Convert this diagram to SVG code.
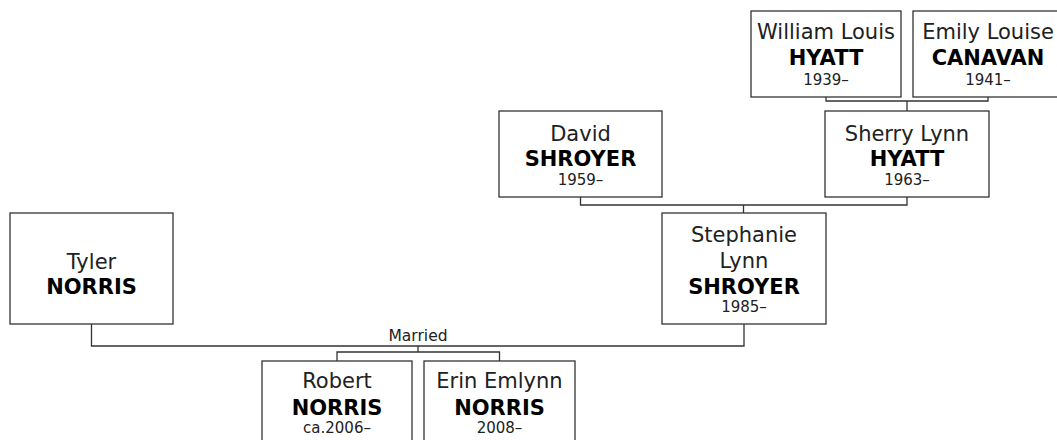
<svg xmlns="http://www.w3.org/2000/svg" width="1057" height="440" viewBox="0 0 1057 440">
<style>
.box{fill:#fff;stroke:#333;stroke-width:1.3}
.ln{fill:none;stroke:#333;stroke-width:1.3}
text{font-family:"DejaVu Sans",Verdana,sans-serif;fill:#202122;text-anchor:middle}
.n{font-size:21px}
.b{font-size:21px;font-weight:bold;fill:#000}
.d{font-size:15px}
.m{font-size:15.5px}
</style>
<rect width="1057" height="440" fill="#fff"/>
<g id="connectors">
<path class="ln" d="M826 97V101H988V97M907 101V111"/>
<path class="ln" d="M580.5 197V205H907V197M743.5 205V213"/>
<path class="ln" d="M91.5 324V346H744V324M418 346V352M337 361V352H499.5V361"/>
<text class="m" x="418" y="341">Married</text>
</g>
<g id="william">
<rect class="box" x="751" y="11" width="150" height="86"/>
<text class="n" x="826" y="39">William Louis</text>
<text class="b" x="826" y="65">HYATT</text>
<text class="d" x="826" y="85">1939–</text>
</g>
<g id="emily">
<rect class="box" x="913" y="11" width="150" height="86"/>
<text class="n" x="988" y="39">Emily Louise</text>
<text class="b" x="988" y="65">CANAVAN</text>
<text class="d" x="988" y="85">1941–</text>
</g>
<g id="david">
<rect class="box" x="499" y="111" width="163" height="86"/>
<text class="n" x="580.5" y="141">David</text>
<text class="b" x="580.5" y="166">SHROYER</text>
<text class="d" x="580.5" y="185">1959–</text>
</g>
<g id="sherry">
<rect class="box" x="825" y="111" width="164" height="86"/>
<text class="n" x="907" y="141">Sherry Lynn</text>
<text class="b" x="907" y="166">HYATT</text>
<text class="d" x="907" y="185">1963–</text>
</g>
<g id="tyler">
<rect class="box" x="10" y="213" width="163" height="111"/>
<text class="n" x="91.5" y="269">Tyler</text>
<text class="b" x="91.5" y="294">NORRIS</text>
</g>
<g id="stephanie">
<rect class="box" x="662" y="213" width="164" height="111"/>
<text class="n" x="744" y="242">Stephanie</text>
<text class="n" x="744" y="268">Lynn</text>
<text class="b" x="744" y="294">SHROYER</text>
<text class="d" x="744" y="312">1985–</text>
</g>
<g id="robert">
<rect class="box" x="262" y="361" width="150" height="90"/>
<text class="n" x="337" y="388">Robert</text>
<text class="b" x="337" y="415">NORRIS</text>
<text class="d" x="337" y="433">ca.2006–</text>
</g>
<g id="erin">
<rect class="box" x="424" y="361" width="151" height="90"/>
<text class="n" x="499.5" y="388">Erin Emlynn</text>
<text class="b" x="499.5" y="415">NORRIS</text>
<text class="d" x="499.5" y="433">2008–</text>
</g>
</svg>
